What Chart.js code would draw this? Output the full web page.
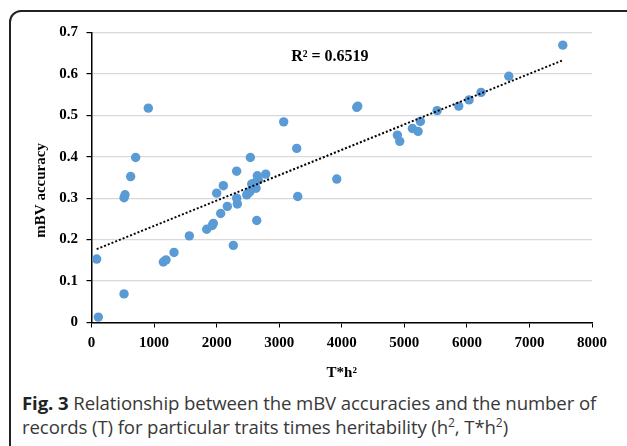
<!DOCTYPE html>
<html>
<head>
<meta charset="utf-8">
<script src="https://cdn.jsdelivr.net/npm/chart.js@4.4.0/dist/chart.umd.min.js"></script>
<style>
    html, body { margin: 0; padding: 0; background: #fff; width: 627px; height: 446px; overflow: hidden; }
    .frame {
        position: absolute; left: 9px; top: 10px; width: 660px; height: 480px;
        border: 2px solid #222; border-radius: 12px; box-sizing: border-box;
    }
    .chart-wrap { position: absolute; left: 0; top: 0; width: 627px; height: 390px; }
    .caption {
        position: absolute; left: 22px; top: 391px; width: 600px;
        font-family: 'Open Sans', sans-serif; font-size: 18.6px; line-height: 23.5px; color: #383838;
        letter-spacing: -0.1px;
    }
    .caption b { font-weight: 700; color: #222; }
    .caption sup { font-size: 12px; line-height: 0; }
</style>
</head>
<body>
<div class="frame"></div>
<div class="chart-wrap"><canvas id="scatterChart" width="627" height="390"></canvas></div>
<div class="caption"><b>Fig. 3</b> Relationship between the mBV accuracies and the number of records (T) for particular traits times heritability (h<sup>2</sup>, T*h<sup>2</sup>)</div>

<script>
// data
const tValues = [83, 109, 520, 520, 536, 626, 706, 908, 1148, 1191,
    1319, 1564, 1841, 1930, 1947, 2001, 2065, 2107, 2171, 2267,
    2320, 2321, 2331, 2481, 2507, 2534, 2539, 2561, 2614, 2630,
    2641, 2651, 2667, 2785, 3072, 3280, 3296, 3920, 4240, 4256,
    4889, 4927, 5129, 5220, 5257, 5524, 5870, 6035, 6227, 6670, 7533];
const accValues = [0.153, 0.013, 0.069, 0.301, 0.308, 0.352, 0.398, 0.517, 0.146, 0.151,
    0.169, 0.209, 0.225, 0.234, 0.239, 0.312, 0.263, 0.330, 0.280, 0.186,
    0.365, 0.300, 0.286, 0.308, 0.312, 0.316, 0.398, 0.334, 0.337, 0.324,
    0.246, 0.354, 0.344, 0.358, 0.484, 0.420, 0.304, 0.346, 0.519, 0.522,
    0.452, 0.437, 0.468, 0.461, 0.485, 0.511, 0.522, 0.537, 0.555, 0.594, 0.669];
const xTicks = [0, 1000, 2000, 3000, 4000, 5000, 6000, 7000, 8000];
const yTicks = [0, 0.1, 0.2, 0.3, 0.4, 0.5, 0.6, 0.7];
const r2Label = 'R² = 0.6519';

document.addEventListener('DOMContentLoaded', function() {
    const points = tValues.map((t, i) => ({ x: t, y: accValues[i] }));

    // least squares fit for the dotted trendline
    const n = tValues.length;
    const mx = tValues.reduce((a, b) => a + b, 0) / n;
    const my = accValues.reduce((a, b) => a + b, 0) / n;
    let sxy = 0, sxx = 0;
    for (let i = 0; i < n; i++) {
        sxy += (tValues[i] - mx) * (accValues[i] - my);
        sxx += (tValues[i] - mx) * (tValues[i] - mx);
    }
    const slope = sxy / sxx;
    const intercept = my - slope * mx;
    const tMin = Math.min(...tValues), tMax = Math.max(...tValues);
    const trend = [tMin, tMax].map(t => ({ x: t, y: intercept + slope * t }));

    const serif = '"Liberation Serif", "Times New Roman", serif';

    const extraText = {
        id: 'extraText',
        afterDraw(chart) {
            const { ctx, chartArea, scales } = chart;
            ctx.save();
            ctx.fillStyle = '#000';
            ctx.textAlign = 'center';
            ctx.textBaseline = 'middle';
            ctx.font = 'bold 16px ' + serif;
            ctx.fillText(r2Label, scales.x.getPixelForValue(3810), scales.y.getPixelForValue(0.64));
            // y axis title, sits a bit below the middle like in the original
            ctx.font = 'bold 15px ' + serif;
            ctx.translate(41.5, (chartArea.top + chartArea.bottom) / 2 + 13);
            ctx.rotate(-Math.PI / 2);
            ctx.fillText('mBV accuracy', 0, 0);
            ctx.restore();
        }
    };

    try {
        const ctx = document.getElementById('scatterChart').getContext('2d');
        new Chart(ctx, {
            type: 'scatter',
            data: {
                datasets: [{
                    label: 'mBV accuracy',
                    data: points,
                    backgroundColor: '#5b9bd5',
                    borderColor: '#5b9bd5',
                    borderWidth: 0,
                    pointRadius: 4.7,
                    order: 1
                }, {
                    type: 'line',
                    label: 'Linear trend',
                    data: trend,
                    borderColor: '#000',
                    borderWidth: 2,
                    borderDash: [2, 2],
                    pointRadius: 0,
                    fill: false,
                    order: 0
                }]
            },
            options: {
                responsive: false,
                animation: false,
                layout: { padding: { left: 0, top: 32.3, right: 35, bottom: 0 } },
                plugins: {
                    legend: { display: false },
                    tooltip: { enabled: false }
                },
                scales: {
                    x: {
                        type: 'linear',
                        min: 0,
                        max: 8000,
                        afterBuildTicks: scale => { scale.ticks = xTicks.map(v => ({ value: v })); },
                        afterFit: scale => { scale.height = 67.5; },
                        grid: { drawOnChartArea: false, drawTicks: true, tickLength: 5, tickColor: '#000' },
                        border: { color: '#000', width: 1.5 },
                        ticks: {
                            color: '#000',
                            padding: 6.5,
                            maxRotation: 0,
                            font: { family: serif, weight: 'bold', size: 15 },
                            callback: v => String(v)
                        },
                        title: {
                            display: true,
                            text: 'T*h²',
                            color: '#000',
                            font: { family: serif, weight: 'bold', size: 15 },
                            padding: { top: 0, bottom: 8 }
                        }
                    },
                    y: {
                        min: 0,
                        max: 0.7,
                        afterBuildTicks: scale => { scale.ticks = yTicks.map(v => ({ value: v })); },
                        afterFit: scale => { scale.width = 91.5; },
                        grid: { color: '#d9d9d9', lineWidth: 1.2, drawTicks: true, tickLength: 5, tickColor: '#000' },
                        border: { color: '#000', width: 1.5 },
                        ticks: {
                            color: '#000',
                            padding: 8.5,
                            font: { family: serif, weight: 'bold', size: 15 },
                            callback: v => String(Math.round(v * 10) / 10)
                        }
                    }
                }
            },
            plugins: [extraText]
        });
    } catch (error) {
        console.error('Error initializing chart:', error);
    }
});
</script>
</body>
</html>
